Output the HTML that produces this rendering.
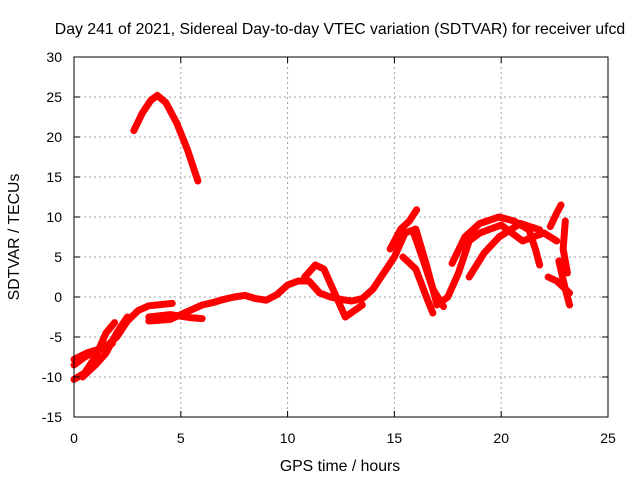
<!DOCTYPE html>
<html><head><meta charset="utf-8"><style>
body{margin:0;background:#fff}
svg text{font-family:"Liberation Sans",sans-serif;font-size:14px;fill:#000}
svg text.big{font-size:15.8px}
</style></head><body>
<svg id="c" width="640" height="480" xmlns="http://www.w3.org/2000/svg">
<rect width="640" height="480" fill="#fff"/>
<text class="big" x="340" y="34" text-anchor="middle">Day 241 of 2021, Sidereal Day-to-day VTEC variation (SDTVAR) for receiver ufcd</text>
<text class="big" x="340" y="471" text-anchor="middle">GPS time / hours</text>
<text class="big" transform="translate(19,237) rotate(-90)" text-anchor="middle">SDTVAR / TECUs</text>
<g id="grid"></g><g id="data"></g><g id="axes"></g>
</svg>
<script>
const xTicks=[0,5,10,15,20,25];
const yTicks=[-15,-10,-5,0,5,10,15,20,25,30];
const arcTop=[[2.8,20.8],[3.2,23],[3.6,24.6],[3.9,25.2],[4.3,24.3],[4.8,21.8],[5.3,18.5],[5.8,14.5]];
const arcEarlyA=[[0,-8.5],[0.5,-7.5],[1,-6.8],[1.5,-6.2],[2,-5],[2.5,-3],[3,-1.7],[3.5,-1.1],[4.6,-0.8]];
const arcEarlyB=[[0,-10.3],[0.5,-9.5],[1,-7.5],[1.5,-4.5],[1.9,-3.2]];
const arcEarlyC=[[0.4,-10],[1,-8.5],[1.5,-7],[2,-4.5],[2.5,-2.5]];
const arcEarlyD=[[0,-7.8],[0.6,-7],[1.2,-6.5],[1.8,-5.8]];
const arcMain=[[3.5,-3],[4.5,-2.8],[5,-2.2],[5.5,-1.6],[6,-1],[6.5,-0.7],[7,-0.3],[7.5,0],[8,0.2],[8.5,-0.2],[9,-0.4],[9.5,0.3],[10,1.5],[10.5,2],[11,2],[11.5,0.5],[12,0],[12.5,-0.3],[13,-0.5],[13.5,-0.2],[14,1],[14.5,3],[15,5],[15.5,8],[16,8.5],[16.5,4],[17,-1],[17.5,0],[18,3],[18.5,7],[19,8],[20,9],[20.5,8],[21,7],[22,8],[22.6,7]];
const arcLow=[[3.5,-2.5],[4.5,-2.2],[5.5,-2.6],[6,-2.7]];
const arcHump=[[10.8,2.5],[11.3,4],[11.7,3.5],[12.2,0.5],[12.7,-2.5],[13.5,-1]];
const arcSpike=[[14.8,6],[15.3,8.5],[15.7,9.5],[16.04,10.9]];
const arcDrop1=[[15.9,8],[16.3,5],[16.8,1],[17.3,-1.2]];
const arcDrop2=[[15.4,5],[16,3.5],[16.5,0],[16.8,-2]];
const arcRightA=[[17.7,4.2],[18.3,7.5],[19,9.2],[19.9,10],[20.6,9.5],[21.3,8.4],[21.6,6],[21.8,4]];
const arcRightB=[[18.5,2.5],[19.2,5.5],[19.9,7.5],[20.9,9.2],[21.8,8.4]];
const arcEnd1=[[22.3,8.8],[22.6,10.5],[22.8,11.5]];
const arcEnd2=[[23,9.5],[22.9,6],[23.1,3],[22.7,4.5],[23,1],[23.2,-1]];
const arcEnd3=[[22.2,2.5],[22.6,2],[23.2,0.5]];
const series=[arcTop,arcEarlyA,arcEarlyB,arcEarlyC,arcEarlyD,arcMain,arcLow,arcHump,arcSpike,arcDrop1,arcDrop2,arcRightA,arcRightB,arcEnd1,arcEnd2,arcEnd3];
const L=74,R=608,T=57,B=417;
const X=v=>L+(v-0)/25*(R-L);
const Y=v=>B-(v+15)/45*(B-T);
const NS="http://www.w3.org/2000/svg";
const mk=(t,a,p)=>{const e=document.createElementNS(NS,t);for(const k in a)e.setAttribute(k,a[k]);p.appendChild(e);return e;};
const g=document.getElementById('grid'),ax=document.getElementById('axes'),d=document.getElementById('data');
xTicks.forEach(v=>{
 if(v>0&&v<25){const l=mk('line',{x1:X(v),x2:X(v),y1:T,y2:B,stroke:'#a0a0a0','stroke-dasharray':'2,3'},g);}
 const t=mk('text',{x:X(v),y:B+26,'text-anchor':'middle'},ax);t.textContent=v;
 
 mk('line',{x1:X(v),x2:X(v),y1:B,y2:B-6,stroke:'#000'},ax);mk('line',{x1:X(v),x2:X(v),y1:T,y2:T+6,stroke:'#000'},ax);
});
yTicks.forEach(v=>{
 if(v>-15&&v<30){const l=mk('line',{x1:L,x2:R,y1:Y(v),y2:Y(v),stroke:'#a0a0a0','stroke-dasharray':'2,3'},g);}
 const t=mk('text',{x:L-12,y:Y(v)+5,'text-anchor':'end'},ax);t.textContent=v;
 
 mk('line',{x1:L,x2:L+6,y1:Y(v),y2:Y(v),stroke:'#000'},ax);mk('line',{x1:R,x2:R-6,y1:Y(v),y2:Y(v),stroke:'#000'},ax);
});
const fr=mk('rect',{x:L,y:T,width:R-L,height:B-T,fill:'none',stroke:'#000'},ax);

series.forEach(s=>{
 const p=mk('polyline',{points:s.map(q=>X(q[0])+','+Y(q[1])).join(' '),fill:'none',stroke:'#f00','stroke-width':7,'stroke-linejoin':'round','stroke-linecap':'round'},d);
 
 
});
</script>
</body></html>
